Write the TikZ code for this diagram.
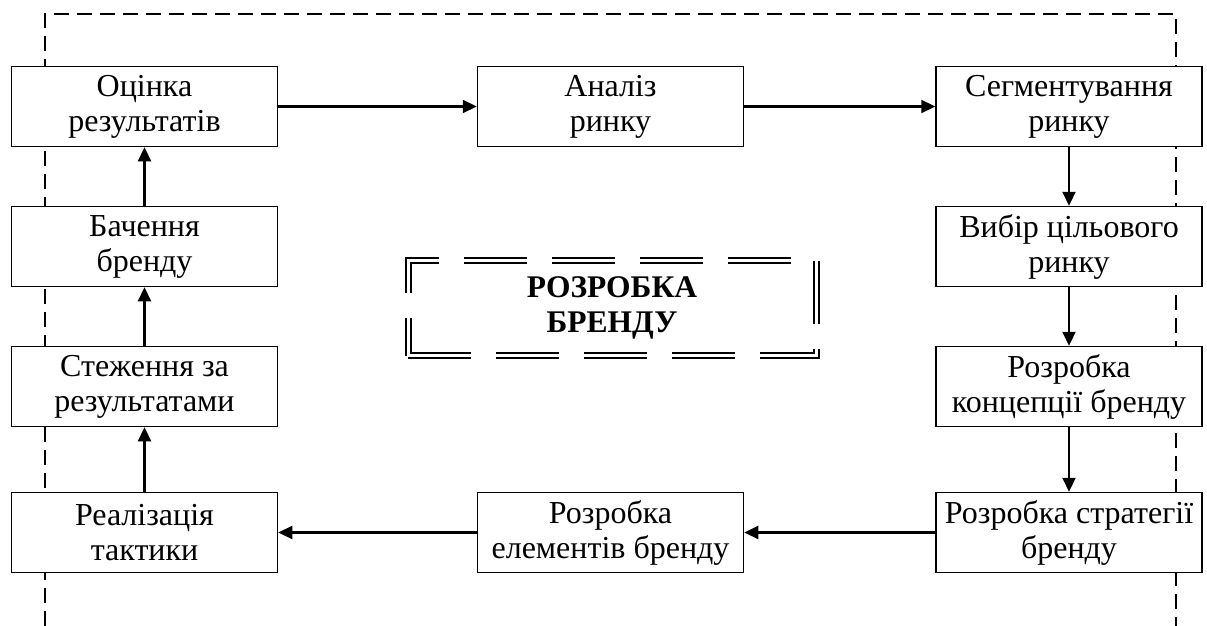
\documentclass[tikz,border=0pt]{standalone}
\usepackage{fontspec}
\setmainfont{Liberation Serif}
\usetikzlibrary{arrows.meta}
\tikzset{
  blk/.style={draw, fill=white, line width=1.5pt, minimum width=266pt, minimum height=80pt,
    align=center, inner sep=0pt, font=\fontsize{32}{35}\selectfont},
  arr/.style={line width=2.2pt, -{Triangle[length=14pt,width=13pt]}},
  frame/.style={line width=1.4pt, dash pattern=on 15pt off 8pt},
  title/.style={draw, line width=2pt, double=white, double distance=3pt,
    dash pattern=on 63pt off 25pt, minimum width=408pt, minimum height=95pt,
    align=center, font=\fontsize{31.5}{35}\selectfont\bfseries}
}
\begin{document}
\begin{tikzpicture}[x=1pt,y=-1pt]
\useasboundingbox (0,0) rectangle (1207,626);
\coordinate (fa) at (45,626);
\coordinate (fb) at (45,14);
\coordinate (fc) at (1176,14);
\coordinate (fd) at (1176,626);
\draw[frame] (fa) -- (fb) -- (fc) -- (fd);

\node[blk] (o) at (144.5,106.5) {Оцінка\\результатів};
\node[blk] (a) at (610.5,106.5) {Аналіз\\ринку};
\node[blk] (s) at (1069,106.5) {Сегментування\\ринку};
\node[blk] (b) at (144.5,246.5) {Бачення\\бренду};
\node[blk] (v) at (1069,246.5) {Вибір цільового\\ринку};
\node[blk] (st) at (144.5,386.5) {Стеження за\\результатами};
\node[blk] (k) at (1069,386.5) {Розробка\\концепції бренду};
\node[blk] (r) at (144.5,532.5) {Реалізація\\тактики};
\node[blk] (e) at (610.5,532.5) {Розробка\\елементів бренду};
\node[blk] (sr) at (1069,532.5) {Розробка стратегії\\бренду};

\node[title] (t) at (612,308) {РОЗРОБКА\\БРЕНДУ};

\draw[arr] (o) -- (a);
\draw[arr] (a) -- (s);
\draw[arr] (s) -- (v);
\draw[arr] (v) -- (k);
\draw[arr] (k) -- (sr);
\draw[arr] (sr) -- (e);
\draw[arr] (e) -- (r);
\draw[arr] (r) -- (st);
\draw[arr] (st) -- (b);
\draw[arr] (b) -- (o);
\end{tikzpicture}
\end{document}
